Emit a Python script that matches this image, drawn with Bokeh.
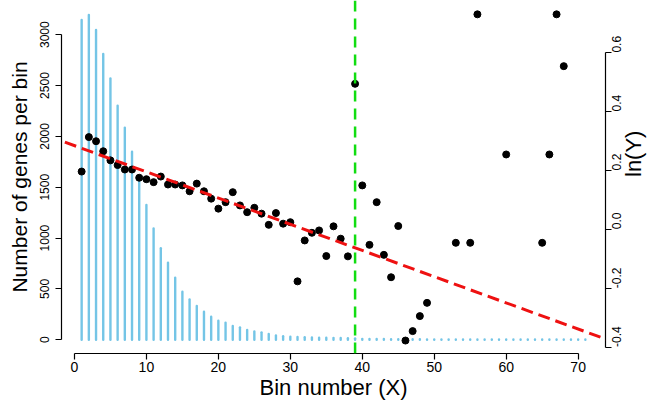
import math
from bokeh.plotting import figure
from bokeh.models import (Range1d, LinearAxis, Span, Slope, FixedTicker, PrintfTickFormatter,
                          ColumnDataSource)
from bokeh.embed import file_html
from bokeh.resources import INLINE

# ---- data ----
bins = list(range(1, 72))
genes_per_bin = [3144, 3193, 3046, 2810, 2570, 2302, 2085, 1849, 1600, 1325,
                 1095, 900, 758, 610, 473, 397, 332, 276, 227, 188,
                 168, 135, 122, 96, 82, 73, 57, 43, 34, 30,
                 27, 25, 23, 21, 20, 19, 17, 16, 14, 9,
                 8, 7, 7, 6, 6, 5, 5, 5, 4, 4,
                 4, 4, 3, 3, 3, 3, 3, 3, 3, 2,
                 2, 2, 2, 2, 2, 2, 2, 2, 2, 2, 2]
baseline = [0] * len(bins)

ln_x = list(range(1, 50)) + [53, 55, 56, 60, 65, 66, 67, 68]
ln_y = [0.196, 0.313, 0.299, 0.265, 0.234, 0.218, 0.203, 0.203, 0.175, 0.170,
        0.160, 0.179, 0.152, 0.152, 0.149, 0.129, 0.155, 0.129, 0.104, 0.070,
        0.092, 0.126, 0.081, 0.058, 0.073, 0.053, 0.015, 0.055, 0.019, 0.024,
        -0.177, -0.038, -0.012, -0.004, -0.091, 0.010, -0.032, -0.092, 0.494, 0.149,
        -0.053, 0.092, -0.087, -0.163, 0.011, -0.378, -0.346, -0.295, -0.250,
        -0.046, -0.046, 0.730, 0.254, -0.046, 0.254, 0.730, 0.554]

fit_intercept = 0.284
fit_slope = -0.0089
cutoff_bin = 39

x_ticks = [0, 10, 20, 30, 40, 50, 60, 70]
left_ticks = [0, 500, 1000, 1500, 2000, 2500, 3000]
right_ticks = [-0.4, -0.2, 0.0, 0.2, 0.4, 0.6]

FONT = "Liberation Sans"

p = figure(width=661, height=404, output_backend="svg", toolbar_location=None,
           x_range=Range1d(-1.8, 73.8), y_range=Range1d(-135, 3336),
           min_border_left=61, min_border_right=56, min_border_top=0, min_border_bottom=51)
p.outline_line_color = None
p.grid.visible = False
p.background_fill_color = "white"
p.extra_y_ranges = {"ln": Range1d(-0.422, 0.777)}

bar_src = ColumnDataSource(dict(x=bins, y0=baseline, y1=genes_per_bin))
p.segment(x0="x", y0="y0", x1="x", y1="y1", source=bar_src,
          line_width=2.4, line_cap="round", line_color="#74C5E6")

pt_src = ColumnDataSource(dict(x=ln_x, y=ln_y))
p.scatter("x", "y", source=pt_src, size=7, fill_color="black", line_color="black",
          y_range_name="ln")

p.add_layout(Span(location=cutoff_bin, dimension="height", line_color="#11DD11",
                  line_width=2.5, line_dash="11 7"))
p.add_layout(Slope(gradient=fit_slope, y_intercept=fit_intercept, y_range_name="ln",
                   line_color="#EE1111", line_width=3, line_dash="12 6"))

right = LinearAxis(y_range_name="ln")
p.add_layout(right, "right")

def style(ax, label_size, title_size):
    ax.axis_line_color = "black"
    ax.axis_line_width = 1.2
    ax.major_tick_line_color = "black"
    ax.major_tick_line_width = 1.2
    ax.major_tick_out = 6
    ax.major_tick_in = 0
    ax.minor_tick_line_color = None
    ax.major_label_text_font = FONT
    ax.major_label_text_font_size = label_size
    ax.major_label_text_color = "black"
    ax.axis_label_text_font = FONT
    ax.axis_label_text_font_size = title_size
    ax.axis_label_text_font_style = "normal"
    ax.axis_label_text_color = "black"

xa = p.xaxis[0]
style(xa, "14px", "22px")
xa.ticker = FixedTicker(ticks=x_ticks)
xa.bounds = (0, 70)
xa.axis_label = "Bin number (X)"
xa.major_label_standoff = 2
xa.axis_label_standoff = 0

ya = p.yaxis[0]
style(ya, "12px", "21px")
ya.ticker = FixedTicker(ticks=left_ticks)
ya.bounds = (0, 3000)
ya.axis_label = "Number of genes per bin"
ya.major_label_orientation = "vertical"
ya.major_label_standoff = 6
ya.axis_label_standoff = 7

style(right, "12px", "22px")
right.ticker = FixedTicker(ticks=right_ticks)
right.formatter = PrintfTickFormatter(format="%.1f")
right.bounds = (-0.4, 0.6)
right.major_label_orientation = math.pi / 2
right.major_label_text_align = "center"
right.major_label_text_baseline = "middle"
right.major_label_standoff = 5
right.axis_label = "ln(Y)"
right.axis_label_standoff = 5
try:
    right.axis_label_orientation = math.pi / 2
except Exception:
    pass

open("out.html", "w").write(file_html(p, INLINE))
